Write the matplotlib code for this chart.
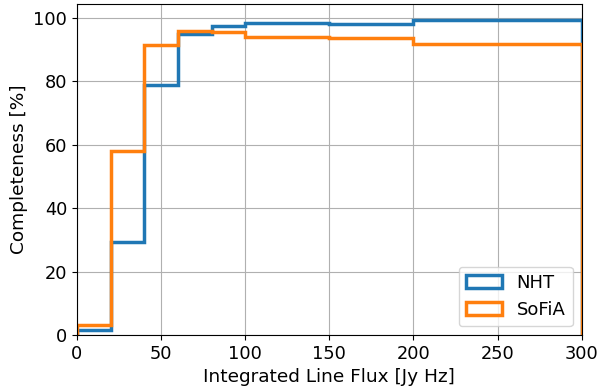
import matplotlib
matplotlib.use("Agg")
import matplotlib.pyplot as plt

edges = [0, 20, 40, 60, 80, 100, 150, 200, 300]
nht = [1.6, 29.3, 78.9, 95.0, 97.4, 98.4, 98.2, 99.4]
sofia = [3.3, 58.0, 91.3, 95.9, 95.7, 94.0, 93.8, 91.7]

fig, ax = plt.subplots(figsize=(6.01, 3.92), dpi=100)
# step histograms so the legend shows outlined boxes
ax.hist(edges[:-1], bins=edges, weights=nht, histtype='step',
        linewidth=2.5, color='#1f77b4', label='NHT')
ax.hist(edges[:-1], bins=edges, weights=sofia, histtype='step',
        linewidth=2.5, color='#ff7f0e', label='SoFiA')

ax.set_xlim(0, 300)
ax.set_ylim(0, 104.4)
ax.grid(True, color='#b0b0b0')
ax.set_axisbelow(True)
ax.tick_params(labelsize=12.8)
ax.set_xlabel('Integrated Line Flux [Jy Hz]', fontsize=13.3)
ax.set_ylabel('Completeness [%]', fontsize=13.3)
ax.legend(loc='lower right', fontsize=13)

fig.subplots_adjust(left=0.128, right=0.968, top=0.99, bottom=0.145)
fig.savefig('out.png')
